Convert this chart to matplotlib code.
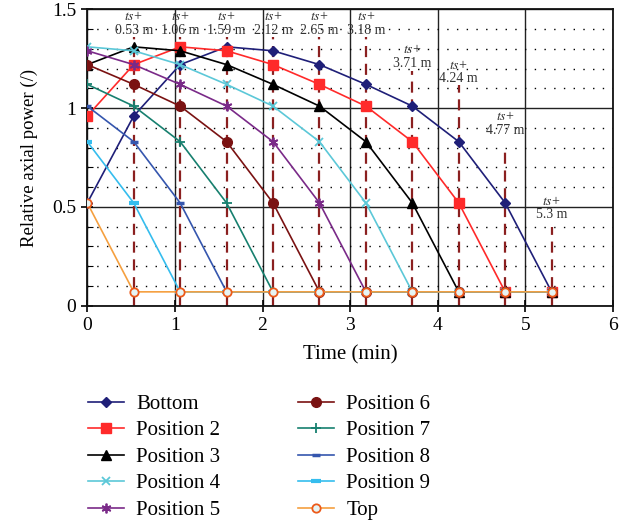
import matplotlib
matplotlib.use("Agg")
import matplotlib.pyplot as plt
from matplotlib.ticker import MultipleLocator

plt.rcParams['font.family'] = ['Liberation Serif', 'DejaVu Serif']
plt.rcParams['mathtext.fontset'] = 'stix'

# ---- data ----
time_min = [0, 0.53, 1.06, 1.59, 2.12, 2.65, 3.18, 3.71, 4.24, 4.77, 5.3]
bottom = [0.52, 0.96, 1.22, 1.31, 1.29, 1.22, 1.12, 1.01, 0.83, 0.52, 0.07]
position2 = [0.96, 1.22, 1.31, 1.29, 1.22, 1.12, 1.01, 0.83, 0.52, 0.07, 0.07]
position3 = [1.22, 1.31, 1.29, 1.22, 1.12, 1.01, 0.83, 0.52, 0.07, 0.07, 0.07]
position4 = [1.31, 1.29, 1.22, 1.12, 1.01, 0.83, 0.52, 0.07, 0.07, 0.07, 0.07]
position5 = [1.29, 1.22, 1.12, 1.01, 0.83, 0.52, 0.07, 0.07, 0.07, 0.07, 0.07]
position6 = [1.22, 1.12, 1.01, 0.83, 0.52, 0.07, 0.07, 0.07, 0.07, 0.07, 0.07]
position7 = [1.12, 1.01, 0.83, 0.52, 0.07, 0.07, 0.07, 0.07, 0.07, 0.07, 0.07]
position8 = [1.01, 0.83, 0.52, 0.07, 0.07, 0.07, 0.07, 0.07, 0.07, 0.07, 0.07]
position9 = [0.83, 0.52, 0.07, 0.07, 0.07, 0.07, 0.07, 0.07, 0.07, 0.07, 0.07]
top = [0.52, 0.07, 0.07, 0.07, 0.07, 0.07, 0.07, 0.07, 0.07, 0.07, 0.07]

series_names = ["Bottom", "Position 2", "Position 3", "Position 4", "Position 5",
                "Position 6", "Position 7", "Position 8", "Position 9", "Top"]
series_values = [bottom, position2, position3, position4, position5,
                 position6, position7, position8, position9, top]

marker_times = [0.53, 1.06, 1.59, 2.12, 2.65, 3.18, 3.71, 4.24, 4.77, 5.3]
marker_labels = ["0.53 m", "1.06 m", "1.59 m", "2.12 m", "2.65 m", "3.18 m",
                 "3.71 m", "4.24 m", "4.77 m", "5.3 m"]

# ---- layout / style (not data) ----
marker_line_top = [1.36] * 6 + [1.19, 1.117, 0.80, 0.40]
label_y = [1.461] * 6 + [1.294, 1.218, 0.955, 0.526]

styles = [
    dict(color='#1f1f78', marker='D', ms=5, mfc='#1f1f78', mec='#1f1f78'),
    dict(color='#ff2a2a', marker='s', ms=7, mfc='#ff2a2a', mec='#ff2a2a'),
    dict(color='#000000', marker='^', ms=7, mfc='#000000', mec='#000000'),
    dict(color='#5cc8d8', marker='x', ms=6, mew=1.3),
    dict(color='#7a2a88', marker=(6, 2, 0), ms=7, mew=1.3),
    dict(color='#7a1212', marker='o', ms=7, mfc='#7a1212', mec='#7a1212'),
    dict(color='#17806f', marker='+', ms=7, mew=1.3),
    dict(color='#3556ae', marker='_', ms=6, mew=2.5),
    dict(color='#35bdee', marker='_', ms=7, mew=3),
    dict(color='#f5a040', marker='o', ms=6, mfc='#e6f4f4', mec='#ec5a1a', mew=1.3),
]

fig = plt.figure(figsize=(6.27, 5.22), dpi=100)
ax = fig.add_axes([0.1392, 0.4144, 0.8384, 0.5678])

ax.set_xlim(0, 6)
ax.set_ylim(0, 1.5)
ax.xaxis.set_major_locator(MultipleLocator(1))
ax.yaxis.set_minor_locator(MultipleLocator(0.1))
ax.set_yticks([0, 0.5, 1, 1.5])
ax.set_yticklabels(["0", "0.5", "1", "1.5"])

# grids
ax.grid(which='major', color='#222222', linewidth=1.0)
ax.grid(which='minor', axis='y', color='#000000', linewidth=1.0,
        linestyle=(0, (1, 6)))
ax.set_axisbelow(True)

for s in ax.spines.values():
    s.set_linewidth(1.3)
    s.set_color('#111111')

ax.tick_params(axis='both', which='major', direction='inout', length=8,
               width=1.2, labelsize=14, pad=4)
ax.tick_params(axis='y', which='minor', direction='in', length=4, width=0.8)
ax.tick_params(axis='x', which='minor', length=0)

# dashed vertical markers
for t, h in zip(marker_times, marker_line_top):
    ax.plot([t, t], [0, h], color='#8b2020', linestyle=(0, (5, 3)),
            linewidth=1.6, zorder=2)

# series
for name, vals, st in zip(series_names, series_values, styles):
    ax.plot(time_min, vals, label=name, linewidth=1.2, zorder=3, **st)

# labels
for t, lab, y in zip(marker_times, marker_labels, label_y):
    ax.text(t, y, r'$\mathit{ts}$+', ha='center', va='center', fontsize=10,
            color='#333333', zorder=4)
    ax.text(t, y - 0.066, lab, ha='center', va='center', fontsize=10,
            color='#333333', zorder=4)

ax.set_xlabel("Time (min)", fontsize=15, labelpad=8)
ax.set_ylabel("Relative axial power (/)", fontsize=13.5, labelpad=10)

handles, labels = ax.get_legend_handles_labels()
fig.legend(handles, labels, loc='upper left',
           bbox_to_anchor=(0.124, 1 - 384 / 522), ncol=2, frameon=False,
           fontsize=15, handlelength=1.7, handletextpad=0.6,
           columnspacing=3.75, labelspacing=0.33, borderpad=0, numpoints=1)

fig.savefig("out.png", dpi=100)
